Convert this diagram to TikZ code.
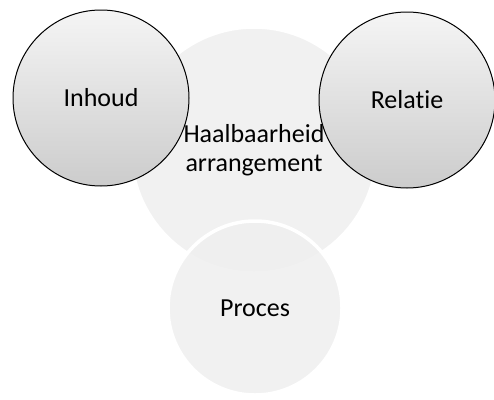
\documentclass[tikz,border=0pt]{standalone}
\usepackage{fontspec}
\setmainfont[Ligatures=NoCommon]{Carlito}

\begin{document}
\begin{tikzpicture}
[x=1pt,y=-1pt,%
  paleDecorate/.style={shape=circle,inner sep=0pt,minimum size=#1,draw=white,line width=3.5pt,fill=gray!13,fill opacity=0.8,text opacity=1,align=center},%
  darkDecorate/.style={shape=circle,inner sep=0pt,minimum size=176pt,draw=black,line width=1pt,shading=axis,top color=gray!8,bottom color=gray!40}]
\fontsize{26}{29}\selectfont
\useasboundingbox (0,0) rectangle (494,399);
%% pale circles
\node (haalbaarheid) at (254,150) [paleDecorate=246pt] {Haalbaarheid\\arrangement};
\node (proces) at (255,308) [paleDecorate=174pt] {Proces};
%% dark circles
\foreach \nodename/\x/\y/\txt in {
  inhoud/101/98/Inhoud, relatie/407/100/Relatie}
{
  \node (\nodename) at (\x,\y) [darkDecorate] {\txt};
}
\end{tikzpicture}
\end{document}
